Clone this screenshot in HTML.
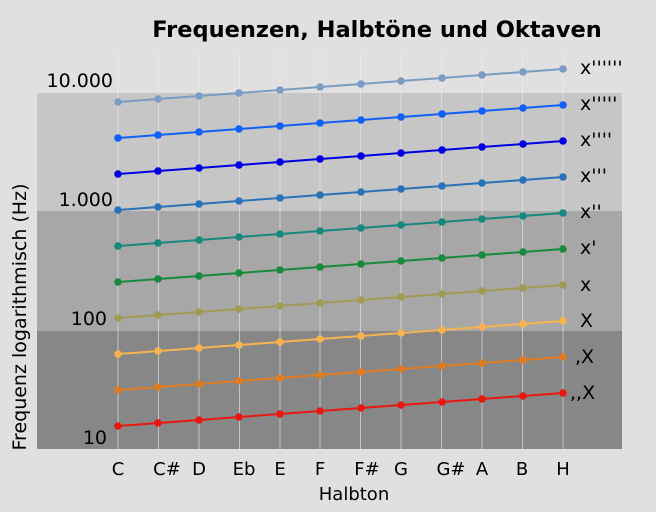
<!DOCTYPE html>
<html><head><style>
html,body{margin:0;padding:0;background:#e0e0e0;}
svg{display:block;font-family:"DejaVu Sans","Liberation Sans",sans-serif;}
</style></head><body>
<svg width="656" height="512" viewBox="0 0 656 512">
<defs>
<marker id="m0" markerUnits="userSpaceOnUse" markerWidth="10" markerHeight="10" refX="5" refY="5"><circle cx="5" cy="5" r="3.8" fill="#e8170f"/></marker>
<marker id="m1" markerUnits="userSpaceOnUse" markerWidth="10" markerHeight="10" refX="5" refY="5"><circle cx="5" cy="5" r="3.8" fill="#e07b20"/></marker>
<marker id="m2" markerUnits="userSpaceOnUse" markerWidth="10" markerHeight="10" refX="5" refY="5"><circle cx="5" cy="5" r="3.8" fill="#f7b350"/></marker>
<marker id="m3" markerUnits="userSpaceOnUse" markerWidth="10" markerHeight="10" refX="5" refY="5"><circle cx="5" cy="5" r="3.8" fill="#a09a52"/></marker>
<marker id="m4" markerUnits="userSpaceOnUse" markerWidth="10" markerHeight="10" refX="5" refY="5"><circle cx="5" cy="5" r="3.8" fill="#178a3e"/></marker>
<marker id="m5" markerUnits="userSpaceOnUse" markerWidth="10" markerHeight="10" refX="5" refY="5"><circle cx="5" cy="5" r="3.8" fill="#168880"/></marker>
<marker id="m6" markerUnits="userSpaceOnUse" markerWidth="10" markerHeight="10" refX="5" refY="5"><circle cx="5" cy="5" r="3.8" fill="#2a72b8"/></marker>
<marker id="m7" markerUnits="userSpaceOnUse" markerWidth="10" markerHeight="10" refX="5" refY="5"><circle cx="5" cy="5" r="3.8" fill="#0000e0"/></marker>
<marker id="m8" markerUnits="userSpaceOnUse" markerWidth="10" markerHeight="10" refX="5" refY="5"><circle cx="5" cy="5" r="3.8" fill="#1060f5"/></marker>
<marker id="m9" markerUnits="userSpaceOnUse" markerWidth="10" markerHeight="10" refX="5" refY="5"><circle cx="5" cy="5" r="3.8" fill="#7a9cc2"/></marker>
</defs>
<rect width="656" height="512" fill="#e0e0e0"/>
<rect x="37" y="93" width="585" height="118" fill="#c6c6c6"/>
<rect x="37" y="211" width="585" height="120" fill="#a7a7a7"/>
<rect x="37" y="331" width="585" height="118" fill="#878787"/>
<g stroke="#ececec" stroke-opacity="0.6" stroke-width="1">
<line x1="118" y1="52" x2="118" y2="449"/><line x1="158.5" y1="52" x2="158.5" y2="449"/>
<line x1="199" y1="52" x2="199" y2="449"/><line x1="239.5" y1="52" x2="239.5" y2="449"/>
<line x1="280" y1="52" x2="280" y2="449"/><line x1="320" y1="52" x2="320" y2="449"/>
<line x1="360.5" y1="52" x2="360.5" y2="449"/><line x1="401" y1="52" x2="401" y2="449"/>
<line x1="441.5" y1="52" x2="441.5" y2="449"/><line x1="482" y1="52" x2="482" y2="449"/>
<line x1="522.5" y1="52" x2="522.5" y2="449"/><line x1="563" y1="52" x2="563" y2="449"/>
</g>
<g fill="none" stroke-width="2">
<polyline stroke="#e8170f" marker-start="url(#m0)" marker-mid="url(#m0)" marker-end="url(#m0)" points="118,426 158,423 199,420 239,417 280,414 320,411 361,408 401,405 442,402 482,399 523,396 563,393"/>
<polyline stroke="#e07b20" marker-start="url(#m1)" marker-mid="url(#m1)" marker-end="url(#m1)" points="118,390 158,387 199,384 239,381 280,378 320,375 361,372 401,369 442,366 482,363 523,360 563,357"/>
<polyline stroke="#f7b350" marker-start="url(#m2)" marker-mid="url(#m2)" marker-end="url(#m2)" points="118,354 158,351 199,348 239,345 280,342 320,339 361,336 401,333 442,330 482,327 523,324 563,321"/>
<polyline stroke="#a09a52" marker-start="url(#m3)" marker-mid="url(#m3)" marker-end="url(#m3)" points="118,318 158,315 199,312 239,309 280,306 320,303 361,300 401,297 442,294 482,291 523,288 563,285"/>
<polyline stroke="#178a3e" marker-start="url(#m4)" marker-mid="url(#m4)" marker-end="url(#m4)" points="118,282 158,279 199,276 239,273 280,270 320,267 361,264 401,261 442,258 482,255 523,252 563,249"/>
<polyline stroke="#168880" marker-start="url(#m5)" marker-mid="url(#m5)" marker-end="url(#m5)" points="118,246 158,243 199,240 239,237 280,234 320,231 361,228 401,225 442,222 482,219 523,216 563,213"/>
<polyline stroke="#2a72b8" marker-start="url(#m6)" marker-mid="url(#m6)" marker-end="url(#m6)" points="118,210 158,207 199,204 239,201 280,198 320,195 361,192 401,189 442,186 482,183 523,180 563,177"/>
<polyline stroke="#0000e0" marker-start="url(#m7)" marker-mid="url(#m7)" marker-end="url(#m7)" points="118,174 158,171 199,168 239,165 280,162 320,159 361,156 401,153 442,150 482,147 523,144 563,141"/>
<polyline stroke="#1060f5" marker-start="url(#m8)" marker-mid="url(#m8)" marker-end="url(#m8)" points="118,138 158,135 199,132 239,129 280,126 320,123 361,120 401,117 442,114 482,111 523,108 563,105"/>
<polyline stroke="#7a9cc2" marker-start="url(#m9)" marker-mid="url(#m9)" marker-end="url(#m9)" points="118,102 158,99 199,96 239,93 280,90 320,87 361,84 401,81 442,78 482,75 523,72 563,69"/>
</g>
<text x="377" y="37" text-anchor="middle" font-size="22.5" font-weight="bold">Frequenzen, Halbtöne und Oktaven</text>
<g font-size="19" text-anchor="end">
<text x="113" y="87">10.000</text><text x="113" y="206">1.000</text>
<text x="107" y="325">100</text><text x="107" y="444">10</text>
</g>
<text transform="translate(26,317) rotate(-90)" text-anchor="middle" font-size="19">Frequenz logarithmisch (Hz)</text>
<g font-size="18" text-anchor="middle">
<text x="118" y="475">C</text><text x="167" y="475">C#</text><text x="199" y="475">D</text>
<text x="244" y="475">Eb</text><text x="280" y="475">E</text><text x="320" y="475">F</text>
<text x="367" y="475">F#</text><text x="401" y="475">G</text><text x="451" y="475">G#</text>
<text x="482" y="475">A</text><text x="522" y="475">B</text><text x="563" y="475">H</text>
<text x="354" y="500">Halbton</text>
</g>
<g font-size="19">
<text x="580" y="74">x''''''</text><text x="580" y="110">x'''''</text>
<text x="580" y="146">x''''</text><text x="580" y="182">x'''</text>
<text x="580" y="218">x''</text><text x="580" y="254">x'</text>
<text x="580" y="291">x</text><text x="580" y="327">X</text>
<text x="575" y="363">,X</text><text x="570" y="399">,,X</text>
</g>
</svg>
</body></html>
